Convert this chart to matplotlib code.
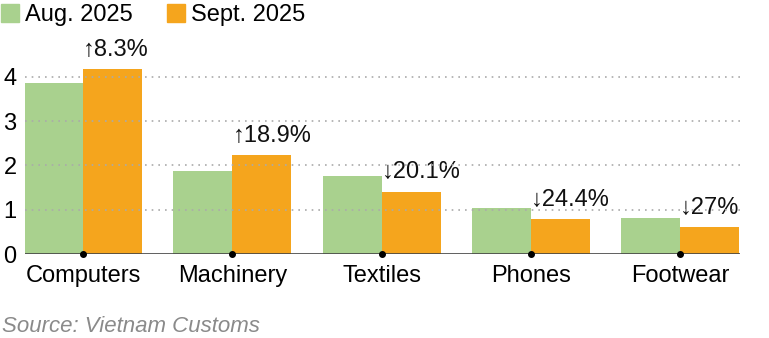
import matplotlib
matplotlib.use("Agg")
import matplotlib.pyplot as plt
from matplotlib.lines import Line2D
import numpy as np

categories = ["Computers", "Machinery", "Textiles", "Phones", "Footwear"]
aug_2025 = [3.85, 1.88, 1.76, 1.04, 0.82]
sept_2025 = [4.17, 2.23, 1.41, 0.79, 0.60]
changes = ["↑8.3%", "↑18.9%", "↓20.1%", "↓24.4%", "↓27%"]
yticks = [0, 1, 2, 3, 4]
series_labels = ["Aug. 2025", "Sept. 2025"]

GREEN = "#a9d18e"
ORANGE = "#f5a51d"

plt.rcParams["font.family"] = ["Liberation Sans", "DejaVu Sans"]

fig = plt.figure(figsize=(7.69, 3.38), dpi=100)
ax = fig.add_axes([0.0325, 0.2485, 0.9295, 0.5635])

x = np.arange(len(categories))
w = 0.395
ax.bar(x - w / 2, aug_2025, width=w, color=GREEN, zorder=1)
ax.bar(x + w / 2, sept_2025, width=w, color=ORANGE, zorder=1)

for xi, v, lab in zip(x, sept_2025, changes):
    ax.annotate(lab, xy=(xi, v), xytext=(0, 6), textcoords="offset points",
                ha="left", va="bottom", fontsize=17, color="#111111")

ax.set_xlim(-0.39, 4.40)
ax.set_ylim(0, 4.3)
ax.set_yticks(yticks)
ax.set_yticklabels([str(t) for t in yticks], fontsize=17)
ax.set_xticks(x)
ax.set_xticklabels(categories, fontsize=17)
ax.tick_params(axis="x", length=0, pad=8)
ax.tick_params(axis="y", length=0, pad=6)

for t in yticks[1:]:
    ax.axhline(t, color="#aaaaaa", linestyle=(0, (1, 3)), linewidth=1.2, zorder=3)
ax.axhline(0, color="#444444", linewidth=1.2, zorder=4)
ax.plot(x, np.zeros_like(x, dtype=float), "o", color="black", ms=4, zorder=5, clip_on=False)

for s in ax.spines.values():
    s.set_visible(False)

handles = [Line2D([], [], marker="s", linestyle="none", markersize=13, color=GREEN),
           Line2D([], [], marker="s", linestyle="none", markersize=13, color=ORANGE)]
fig.legend(handles, series_labels, loc="upper left", bbox_to_anchor=(-0.03, 1.05), ncol=2,
           frameon=False, fontsize=17, handletextpad=0.15, columnspacing=1.3, handlelength=1.0)

fig.text(0.003, 1 - 326 / 338, "Source: Vietnam Customs", fontsize=16, style="italic",
         color="#8a8a8a", ha="left", va="center")

fig.savefig("out.png", dpi=100)
